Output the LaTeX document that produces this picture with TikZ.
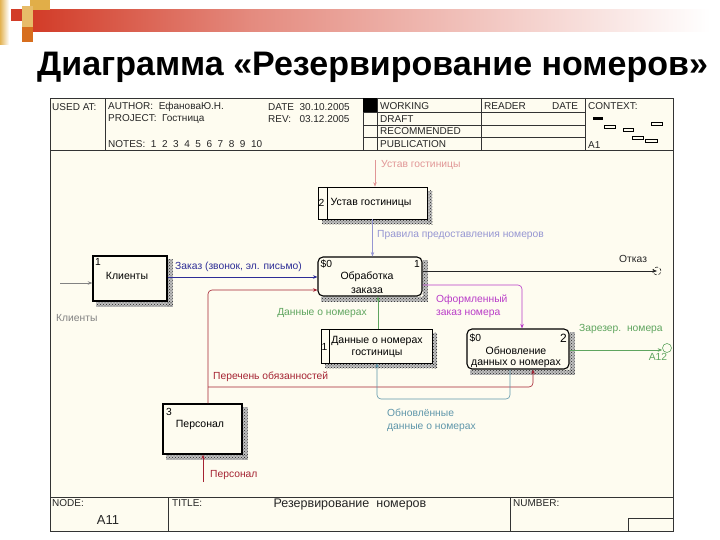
\documentclass[tikz,border=0pt]{standalone}
\usepackage{fontspec}
\setmainfont{Liberation Sans}
\usetikzlibrary{arrows.meta,backgrounds,patterns}
\definecolor{cream}{RGB}{254,252,240}
\definecolor{navyA}{RGB}{45,45,150}
\definecolor{redA}{RGB}{165,35,50}
\definecolor{greenA}{RGB}{95,165,95}
\definecolor{tealA}{RGB}{95,150,170}
\definecolor{purpA}{RGB}{185,60,200}
\definecolor{pinkA}{RGB}{225,150,150}
\definecolor{lavA}{RGB}{150,150,210}
\definecolor{grayA}{RGB}{130,130,130}
\definecolor{barred}{RGB}{210,60,40}
\definecolor{goldA}{RGB}{220,160,40}
\definecolor{orangeA}{RGB}{215,110,30}
\tikzset{
  lbl/.style={font=\fontsize{10.3}{13}\selectfont, inner sep=0pt},
  boxtxt/.style={font=\fontsize{10.5}{12}\selectfont, inner sep=0pt},
  hdr/.style={font=\fontsize{10}{11}\selectfont, inner sep=0pt, anchor=west, text=black!85},
  thickbox/.style={draw, fill=cream, line width=1.4pt, inner sep=0pt},
  thinbox/.style={draw, fill=cream, line width=0.6pt, inner sep=0pt},
  rbox/.style={draw, fill=cream, line width=1.1pt, rounded corners=5pt, inner sep=0pt},
  arr/.style={line width=0.6pt, -{Stealth[length=4.5pt,width=3.5pt]}},
  hatch/.style={pattern=crosshatch dots, pattern color=black!85},
  frameline/.style={line width=0.6pt, draw=black!80}
}
\newcommand\hatchshadow[1]{%
  \fill[black!25] ([yshift=-4pt]#1.north east) rectangle ([xshift=5pt,yshift=-5pt]#1.south east);
  \fill[black!25] ([xshift=4pt]#1.south west) rectangle ([xshift=5pt,yshift=-5pt]#1.south east);
  \fill[hatch] ([yshift=-4pt]#1.north east) rectangle ([xshift=5pt,yshift=-5pt]#1.south east);
  \fill[hatch] ([xshift=4pt]#1.south west) rectangle ([xshift=5pt,yshift=-5pt]#1.south east);}
\begin{document}
\begin{tikzpicture}[x=1pt,y=-1pt]
\useasboundingbox (0,0) rectangle (720,540);
\begin{scope}[on background layer]
\fill[white] (0,0) rectangle (720,540);
\fill[cream] (50,98) rectangle (673,531);
\end{scope}
% decoration
\shade[left color=barred, right color=barred!60] (33,10) rectangle (250,32);
\shade[left color=barred!60, right color=white] (249,10) rectangle (710,32);
\shade[left color=goldA!80, right color=white] (0,0) rectangle (9,45);
\fill[goldA!85] (30,0) rectangle (50,10);
\fill[goldA!70] (22,6) rectangle (33,27);
\fill[barred] (11,9) rectangle (22,21);
\fill[orangeA] (22,27) rectangle (33,42);
% title
\node[anchor=base west, font=\bfseries\fontsize{34}{36}\selectfont, inner sep=0pt] (title) at (37,76) {Диаграмма «Резервирование номеров»};
\draw[frameline] (50,98) rectangle (673,531);
% header lines
\draw[frameline] (50,150) -- (673,150);
\draw[frameline] (105,98) -- (105,150);
\draw[frameline] (363,98) -- (363,150);
\draw[frameline] (377,98) -- (377,150);
\draw[frameline] (481,98) -- (481,150);
\draw[frameline] (585,98) -- (585,150);
\foreach \yy in {112,125,137} \draw[frameline] (363,\yy) -- (585,\yy);
\fill[black] (363,98) rectangle (377,112);
% header texts
\node[hdr] (usedat) at (52,107) {USED AT:};
\node[hdr] (author) at (108,107) {AUTHOR:\ \ ЕфановаЮ.Н.};
\node[hdr] (project) at (108,119) {PROJECT:\ \ Гостница};
\node[hdr] (date) at (268,107) {DATE\ \ 30.10.2005};
\node[hdr] (rev) at (268,119) {REV:\ \ \ 03.12.2005};
\node[hdr] (notes) at (108,144) {NOTES:\ \ 1\ \ 2\ \ 3\ \ 4\ \ 5\ \ 6\ \ 7\ \ 8\ \ 9\ \ 10};
\node[hdr] (working) at (380,106) {WORKING};
\node[hdr] (draft) at (380,119) {DRAFT};
\node[hdr] (recom) at (380,131) {RECOMMENDED};
\node[hdr] (publ) at (380,144) {PUBLICATION};
\node[hdr] (reader) at (484,106) {READER};
\node[hdr] (rdate) at (552,106) {DATE};
\node[hdr] (context) at (588,106) {CONTEXT:};
\node[hdr] (aone) at (588,145) {A1};
% context thumbnails
\fill[black] (593,117) rectangle (603,120);
\draw[line width=0.5pt] (604,125) rectangle (615,128);
\draw[line width=0.5pt] (623,128) rectangle (633,131);
\draw[line width=0.5pt] (651,122) rectangle (662,125);
\draw[line width=0.5pt] (632,136) rectangle (643,139);
\draw[line width=0.5pt] (645,139) rectangle (657,142);
% footer
\draw[frameline] (50,497) -- (673,497);
\draw[frameline] (168,497) -- (168,531);
\draw[frameline] (510,497) -- (510,531);
\draw[frameline] (628,531) -- (628,518) -- (673,518);
\node[hdr] (nodelbl) at (52,503) {NODE:};
\node[lbl, font=\fontsize{13}{14}\selectfont, text=black!85] (a11) at (108,520) {A11};
\node[hdr] (titlelbl) at (172,503) {TITLE:};
\node[lbl, font=\fontsize{12.5}{14}\selectfont, text=black!85] (titletext) at (350,504) {Резервирование\ \ номеров};
\node[hdr] (numlbl) at (513,503) {NUMBER:};
% boxes
\node[thickbox, minimum width=74pt, minimum height=45pt] (kl) at (130,278.5) {};
\node[thinbox, minimum width=109pt, minimum height=32pt] (ust) at (372.5,203) {};
\node[rbox, minimum width=104pt, minimum height=39pt] (obr) at (370,276.5) {};
\node[thickbox, minimum width=79pt, minimum height=50pt] (per) at (202.5,429) {};
\node[thinbox, minimum width=111pt, minimum height=34pt] (dan) at (376.5,346) {};
\node[rbox, minimum width=102pt, minimum height=40pt] (obn) at (518,349) {};
\begin{scope}[on background layer]
\hatchshadow{kl}
\hatchshadow{ust}
\hatchshadow{obr}
\hatchshadow{per}
\hatchshadow{dan}
\hatchshadow{obn}
\end{scope}
\draw[line width=0.6pt] (327,187) -- (327,219);
\draw[line width=0.6pt] (329,329) -- (329,363);
% box texts
\node[lbl, anchor=west] (kl1) at (95,262) {1};
\node[boxtxt] (kltxt) at (127,276) {Клиенты};
\node[lbl] (ust2) at (321.5,203) {2};
\node[boxtxt] (usttxt) at (371,203) {Устав гостиницы};
\node[lbl, anchor=west] (obr0) at (320.5,264) {\$0};
\node[lbl, anchor=east] (obr1) at (420,264) {1};
\node[boxtxt] (obrtxt) at (367,277) {Обработка};
\node[boxtxt] (obrtxt2) at (367,291) {заказа};
\node[lbl, anchor=west] (per3) at (166,412) {3};
\node[boxtxt] (pertxt) at (200,425) {Персонал};
\node[lbl] (dan1) at (324.5,347) {1};
\node[boxtxt] (dantxt) at (377,341) {Данные о номерах};
\node[boxtxt] (dantxt2) at (377,354) {гостиницы};
\node[lbl, anchor=west] (obn0) at (469.5,338) {\$0};
\node[lbl, anchor=east, font=\fontsize{12}{13}\selectfont] (obn2) at (567,338) {2};
\node[boxtxt] (obntxt) at (516,351) {Обновление};
\node[boxtxt] (obntxt2) at (516,364) {данных о номерах};
% free ends
\coordinate (klin) at (60,283);
\coordinate (ustin) at (375,160);
\coordinate (perin) at (203,482);
\node[circle, draw, densely dashed, line width=0.5pt, minimum size=8pt, inner sep=0pt] (otk) at (657,271) {};
\node[circle, draw=greenA, line width=0.6pt, minimum size=9pt, inner sep=0pt] (a12c) at (667,348) {};
% connectors
\draw[arr, draw=grayA] (klin) -- (kl.west |- klin);
\draw[arr, draw=navyA] (kl.east |- 0,277) -- (obr.west |- 0,277);
\draw[arr, draw=pinkA] (ustin) -- (ust.north -| ustin);
\draw[arr, draw=lavA] (ust.south) -- (ust.south |- obr.north);
\draw[arr, draw=black!85] (obr.east |- 0,271) -- (otk.center);
\draw[arr, draw=purpA, rounded corners=4pt] (obr.east |- 0,285) -- (522,285) -- (obn.north -| 522,0);
\draw[arr, draw=redA, rounded corners=4pt] (per.north -| 208,0) -- (208,290) -- (obr.west |- 0,290);
\draw[arr, draw=redA, rounded corners=4pt] (208,387) -- (533,387) -- (obn.south -| 533,0);
\draw[arr, draw=redA] (perin) -- (per.south -| perin);
\draw[arr, draw=greenA] (dan.north -| 378,0) -- (obr.south -| 378,0);
\draw[arr, draw=tealA, rounded corners=4pt] (obn.south -| 510,0) -- (510,399) -- (377,399) -- (dan.south -| 377,0);
\draw[arr, draw=greenA] (obn.east |- 0,350) -- (a12c.west |- 0,350);
% connector labels
\node[lbl, anchor=west, text=grayA] (lklin) at (56,318) {Клиенты};
\node[lbl, anchor=west, text=navyA] (lzak) at (175,267) {Заказ (звонок, эл. письмо)};
\node[lbl, anchor=west, text=pinkA] (lust) at (381,165) {Устав гостиницы};
\node[lbl, anchor=west, text=lavA] (lprav) at (377,235) {Правила предоставления номеров};
\node[lbl, anchor=west, text=black!85] (lotk) at (619,259) {Отказ};
\node[lbl, anchor=west, text=purpA, align=left] (lofo) at (436,306.5) {Оформленный\\заказ номера};
\node[lbl, text=greenA] (ldan) at (322,313) {Данные о номерах};
\node[lbl, anchor=west, text=redA] (lper) at (213,377) {Перечень обязанностей};
\node[lbl, anchor=west, text=redA] (lpers) at (210,475) {Персонал};
\node[lbl, anchor=west, text=tealA, align=left] (lobn) at (387,420.5) {Обновлённые\\данные о номерах};
\node[lbl, anchor=west, text=greenA] (lzar) at (579,329) {Зарезер.\ \ номера};
\node[lbl, text=greenA] (la12) at (658,357) {A12};
\end{tikzpicture}
\end{document}
